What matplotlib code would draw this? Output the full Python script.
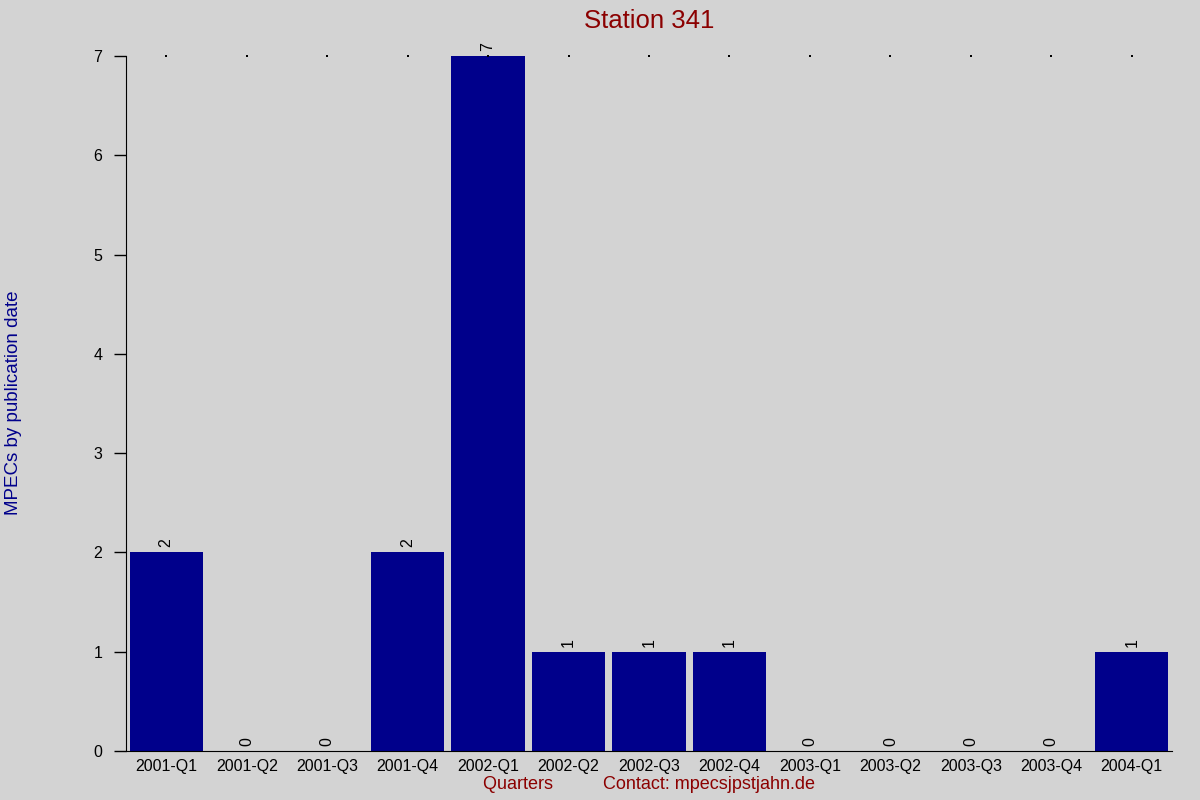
import numpy as np
import matplotlib
matplotlib.use('Agg')
import matplotlib.pyplot as plt

plt.rcParams['font.family']=['Liberation Sans','DejaVu Sans']

#data
quarters=['2001-Q1','2001-Q2','2001-Q3','2001-Q4','2002-Q1','2002-Q2','2002-Q3',
          '2002-Q4','2003-Q1','2003-Q2','2003-Q3','2003-Q4','2004-Q1']
counts=[2,0,0,2,7,1,1,1,0,0,0,0,1]

bg='#d3d3d3'
bar_color='#00008b'
red='#8b0000'

fig=plt.figure(figsize=(12,8),dpi=100,facecolor=bg)
ax=fig.add_axes([0.105,0.06125,0.8717,0.86875],facecolor=bg)

x=np.arange(len(quarters))
ax.bar(x,counts,width=0.91,color=bar_color,zorder=2)

#value labels on top
for xi,v in zip(x,counts):
    ax.text(xi,v+0.05,str(v),rotation=90,ha='center',va='bottom',fontsize=11.5,color='black')

#tiny dots along the top
ax.scatter(x,np.full(len(x),max(counts)),s=1,marker='s',color='black',lw=0,zorder=3,clip_on=False)

ax.set_xlim(-0.5,len(quarters)-0.5)
ax.set_ylim(0,7)
ax.set_xticks(x)
ax.set_xticklabels(quarters,fontsize=11.5)
ax.set_yticks(range(0,8))
ax.tick_params(axis='x',length=0,pad=6)
ax.tick_params(axis='y',length=9,width=1,labelsize=11.5,pad=8)

for s in ['top','right']:
    ax.spines[s].set_visible(False)

ax.set_title('Station 341',color=red,fontsize=18.5,pad=20)
fig.text(0.011,0.496,'MPECs by publication date',rotation=90,ha='center',va='center',
         color=bar_color,fontsize=13.5)
ax.set_xlabel('Quarters          Contact: mpecsjpstjahn.de',color=red,fontsize=13,labelpad=1.5)

fig.savefig('out.png',dpi=100,facecolor=bg)
